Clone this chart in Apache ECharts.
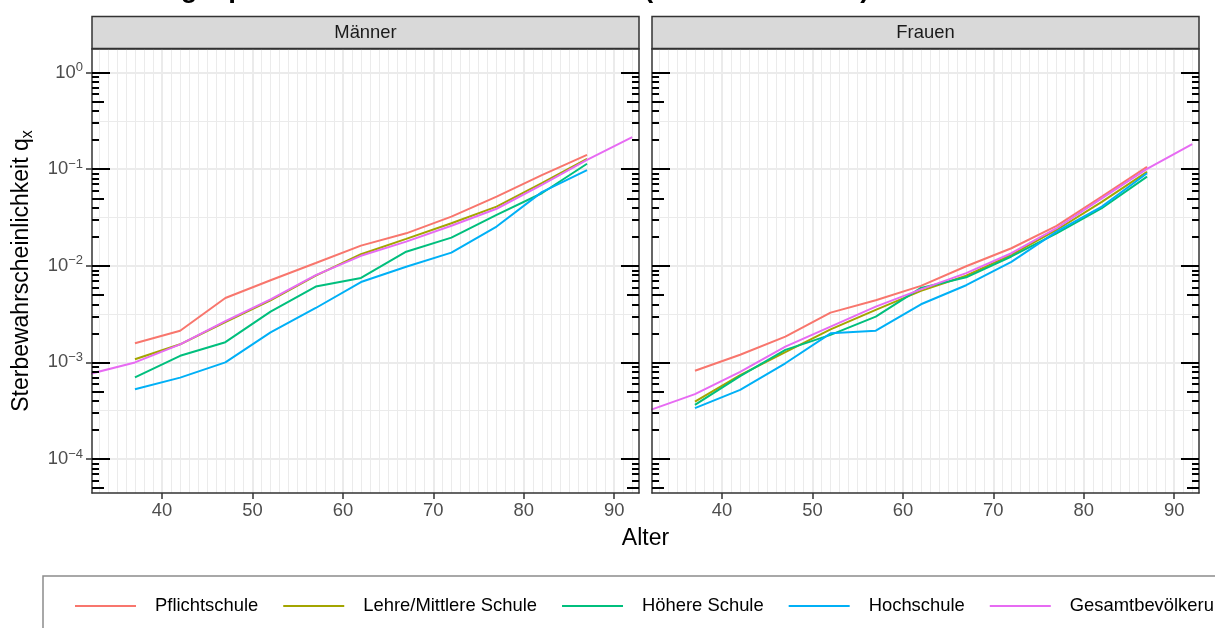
<!DOCTYPE html>
<html>
<head>
<meta charset="utf-8">
<script src="https://cdn.jsdelivr.net/npm/echarts@6/dist/echarts.min.js"></script>
<style>
  html, body { margin: 0; padding: 0; background: #ffffff; }
  #chart { width: 1215px; height: 628px; }
</style>
</head>
<body>
<div id="chart"></div>
<script>
// ---- data -------------------------------------------------------------
const ages = [37, 42, 47, 52, 57, 62, 67, 72, 77, 82, 87];
const agesTotal = [32, 37, 42, 47, 52, 57, 62, 67, 72, 77, 82, 87, 92];
const panels = ['Männer', 'Frauen'];
const groups = ['Pflichtschule', 'Lehre/Mittlere Schule', 'Höhere Schule', 'Hochschule', 'Gesamtbevölkerung'];
const colors = ['#F8766D', '#A3A500', '#00BF7D', '#00B0F6', '#E76BF3'];

// Männer
const pflichtM  = [0.00158, 0.00213, 0.00464, 0.0071, 0.0107, 0.0162, 0.0217, 0.0323, 0.052, 0.087, 0.141];
const lehreM    = [0.00108, 0.00154, 0.00262, 0.0044, 0.0079, 0.0132, 0.019, 0.0276, 0.041, 0.072, 0.128];
const hoehereM  = [0.0007, 0.00117, 0.00162, 0.00336, 0.0061, 0.0075, 0.014, 0.0196, 0.0337, 0.0564, 0.114];
const hochM     = [0.000528, 0.000696, 0.001, 0.00205, 0.00366, 0.0068, 0.0098, 0.0137, 0.0255, 0.058, 0.098];
const gesamtM   = [0.00076, 0.001, 0.00154, 0.00267, 0.0045, 0.008, 0.0127, 0.0178, 0.026, 0.039, 0.069, 0.125, 0.215];

// Frauen
const pflichtF  = [0.00082, 0.0012, 0.00185, 0.00328, 0.0044, 0.0062, 0.0099, 0.0152, 0.0259, 0.052, 0.106];
const lehreF    = [0.000393, 0.00074, 0.00128, 0.0022, 0.0035, 0.0055, 0.0079, 0.013, 0.0235, 0.046, 0.094];
const hoehereF  = [0.000363, 0.00072, 0.00135, 0.00193, 0.00298, 0.0059, 0.0076, 0.0125, 0.0217, 0.0395, 0.0838];
const hochF     = [0.000336, 0.000519, 0.00098, 0.002, 0.00213, 0.004, 0.0063, 0.011, 0.0226, 0.041, 0.091];
const gesamtF   = [0.00032, 0.000469, 0.0008, 0.00146, 0.00235, 0.00378, 0.0057, 0.0084, 0.0135, 0.0245, 0.05, 0.101, 0.182];

const panelSeries = {
  'Männer': [pflichtM, lehreM, hoehereM, hochM, gesamtM],
  'Frauen': [pflichtF, lehreF, hoehereF, hochF, gesamtF]
};

// ---- ticks ------------------------------------------------------------
const xTicks = [40, 50, 60, 70, 80, 90];
const yTicks = [1e-4, 1e-3, 1e-2, 1e-1, 1];
const decades = [-5, -4, -3, -2, -1, 0];
const shortMantissas = [2, 3, 4, 6, 7, 8, 9];

// ---- layout -----------------------------------------------------------
const FONT = '"Liberation Sans", Arial, Helvetica, sans-serif';
const X_MIN = 32.25, X_MAX = 92.75;
const Y_MIN = Math.pow(10, -4.352), Y_MAX = Math.pow(10, 0.245);
const PANEL = { top: 49, height: 444, width: 547, lefts: [92, 652] };
const STRIP = { top: 16.5, height: 32 };
const BORDER = { color: '#333333', width: 1.5 };

const inRange = v => v >= Y_MIN && v <= Y_MAX;
const xMinorVals = [];
for (let a = Math.ceil(X_MIN); a <= Math.floor(X_MAX); a++) xMinorVals.push(a);
const yHalfDecades = decades.map(d => Math.pow(10, d + 0.5)).filter(inRange);
const logLong = decades.map(d => Math.pow(10, d)).filter(inRange);
const logMid = decades.map(d => 5 * Math.pow(10, d)).filter(inRange);
const logShort = [];
decades.forEach(d => shortMantissas.forEach(m => logShort.push(m * Math.pow(10, d))));
const logShortIn = logShort.filter(inRange);

function xAx(gi, extra) {
  return Object.assign({
    type: 'value', gridIndex: gi, min: X_MIN, max: X_MAX, position: 'bottom',
    axisLine: { show: false, onZero: false }, axisTick: { show: false },
    axisLabel: { show: false }, splitLine: { show: false },
    minorTick: { show: false }, minorSplitLine: { show: false }, z: 0
  }, extra);
}
function yAx(gi, extra) {
  return Object.assign({
    type: 'log', logBase: 10, gridIndex: gi, min: Y_MIN, max: Y_MAX, position: 'left',
    axisLine: { show: false, onZero: false }, axisTick: { show: false },
    axisLabel: { show: false }, splitLine: { show: false },
    minorTick: { show: false }, minorSplitLine: { show: false }, z: 0
  }, extra);
}

const grids = [], xAxes = [], yAxes = [], series = [], graphics = [];

panels.forEach((name, gi) => {
  grids.push({
    left: PANEL.lefts[gi], top: PANEL.top, width: PANEL.width, height: PANEL.height,
    containLabel: false, outerBoundsMode: 'none'
  });

  // vertical grid lines
  xAxes.push(xAx(gi, {
    axisTick: { show: false, customValues: xMinorVals },
    splitLine: { show: true, lineStyle: { color: '#EBEBEB', width: 1 } }
  }));
  xAxes.push(xAx(gi, {
    axisTick: { show: false, customValues: xTicks },
    splitLine: { show: true, lineStyle: { color: '#EBEBEB', width: 2 } }
  }));
  // bottom axis with labels
  const xMainIndex = xAxes.length;
  xAxes.push(xAx(gi, {
    z: 5, position: 'bottom',
    axisLine: { show: true, onZero: false, lineStyle: BORDER },
    axisTick: { show: true, length: 6, customValues: xTicks, lineStyle: { color: '#333333', width: 1.5 } },
    axisLabel: { show: true, customValues: xTicks, margin: 9, color: '#4D4D4D', fontSize: 18.4, fontFamily: FONT }
  }));
  // top border
  xAxes.push(xAx(gi, {
    z: 5, position: 'top',
    axisLine: { show: true, onZero: false, lineStyle: BORDER }
  }));

  // horizontal grid lines
  yAxes.push(yAx(gi, {
    axisTick: { show: false, customValues: yHalfDecades },
    splitLine: { show: true, lineStyle: { color: '#EBEBEB', width: 1 } }
  }));
  yAxes.push(yAx(gi, {
    axisTick: { show: false, customValues: yTicks },
    splitLine: { show: true, lineStyle: { color: '#EBEBEB', width: 2 } }
  }));
  // left axis
  const yMainIndex = yAxes.length;
  yAxes.push(yAx(gi, {
    z: 5, position: 'left',
    axisLine: { show: true, onZero: false, lineStyle: BORDER },
    axisTick: gi === 0
      ? { show: true, length: 6, customValues: yTicks, lineStyle: { color: '#333333', width: 1.5 } }
      : { show: false },
    axisLabel: gi === 0 ? {
      show: true, customValues: yTicks, margin: 9, color: '#4D4D4D',
      fontSize: 18.4, fontFamily: FONT,
      formatter: v => {
        const e = Math.round(Math.log10(v));
        return '10{s|' + (e < 0 ? '\u2212' + (-e) : String(e)) + '}';
      },
      rich: { s: { fontSize: 13, color: '#4D4D4D', fontFamily: FONT, padding: [0, 0, 10, 0] } }
    } : { show: false }
  }));
  // log tick marks on both sides
  ['left', 'right'].forEach(side => {
    [[logShortIn, 7], [logMid, 12], [logLong, 18]].forEach(([vals, len], k) => {
      yAxes.push(yAx(gi, {
        z: 5, position: side,
        axisLine: { show: side === 'right' && k === 2, onZero: false, lineStyle: BORDER },
        axisTick: { show: true, inside: true, length: len, customValues: vals,
                    lineStyle: { color: '#000000', width: 2 } }
      }));
    });
  });

  groups.forEach((g, j) => {
    const vals = panelSeries[name][j];
    const xs = j === 4 ? agesTotal : ages;
    series.push({
      type: 'line', name: g,
      xAxisIndex: xMainIndex, yAxisIndex: yMainIndex,
      data: xs.map((a, k) => [a, vals[k]]),
      showSymbol: false, symbol: 'none', clip: true,
      color: colors[j],
      lineStyle: { color: colors[j], width: 2 },
      emphasis: { disabled: true }, z: 2
    });
  });

  // facet strip
  graphics.push({
    type: 'group',
    children: [
      { type: 'rect',
        shape: { x: PANEL.lefts[gi], y: STRIP.top, width: PANEL.width, height: STRIP.height },
        style: { fill: '#D9D9D9', stroke: '#333333', lineWidth: 1.5 } },
      { type: 'text',
        x: PANEL.lefts[gi] + PANEL.width / 2, y: STRIP.top + STRIP.height / 2 + 0.5,
        style: { text: name, fontSize: 18.4, fontFamily: FONT, fill: '#1A1A1A',
                 align: 'center', verticalAlign: 'middle' } }
    ]
  });
});

// axis titles
graphics.push({
  type: 'text', x: 645.5, y: 539,
  style: { text: 'Alter', fontSize: 23, fontFamily: FONT, fill: '#000000',
           align: 'center', verticalAlign: 'middle' }
});
graphics.push({
  type: 'text', x: 22, y: 271, rotation: Math.PI / 2,
  style: {
    text: '{a|Sterbewahrscheinlichkeit q}{b|x}',
    align: 'center', verticalAlign: 'middle',
    rich: {
      a: { fontSize: 23, fontFamily: FONT, fill: '#000000' },
      b: { fontSize: 16, fontFamily: FONT, fill: '#000000', padding: [12, 0, 0, 0] }
    }
  }
});

const option = {
  backgroundColor: '#ffffff',
  animation: false,
  title: {
    text: 'Bildungsspezifische Mortalität nach Alter (Österreich 2015)',
    left: 95, top: -25, padding: 0,
    textStyle: { fontSize: 27.6, fontWeight: 'bold', color: '#000000', fontFamily: FONT }
  },
  legend: {
    data: groups, left: 43, top: 576, width: 1600, orient: 'horizontal',
    icon: 'rect', itemWidth: 61, itemHeight: 2, itemGap: 25,
    padding: [21, 40, 40, 32],
    borderColor: '#8C8C8C', borderWidth: 1.5, backgroundColor: '#ffffff',
    selectedMode: false,
    textStyle: { fontSize: 18.4, color: '#000000', fontFamily: FONT, padding: [0, 0, 0, 14] }
  },
  grid: grids,
  xAxis: xAxes,
  yAxis: yAxes,
  series: series,
  graphic: graphics
};

const chart = echarts.init(document.getElementById('chart'), null, { renderer: 'canvas' });
chart.setOption(option);
</script>
</body>
</html>
